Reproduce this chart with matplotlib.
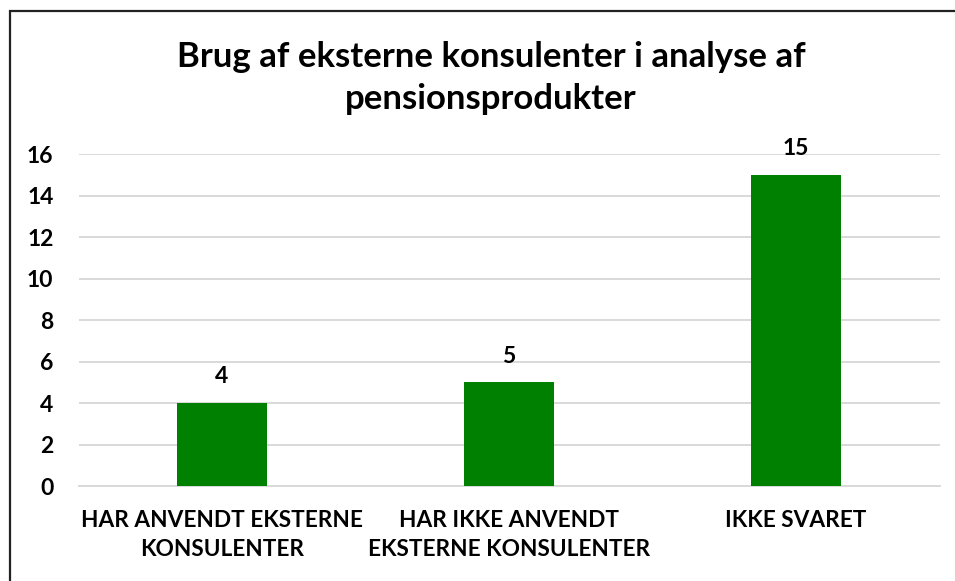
import matplotlib.pyplot as plt
from matplotlib.patches import Rectangle

categories = ["HAR ANVENDT EKSTERNE\nKONSULENTER",
              "HAR IKKE ANVENDT\nEKSTERNE KONSULENTER",
              "IKKE SVARET"]
values = [4, 5, 15]
yticks = [0, 2, 4, 6, 8, 10, 12, 14, 16]

plt.rcParams['font.family'] = ['Lato', 'DejaVu Sans']

fig = plt.figure(figsize=(9.55, 5.81), dpi=100)
ax = fig.add_axes([0.0822, 0.1635, 0.9016, 0.5714])

# outer chart border (cut off at right and bottom in the source)
fig.patches.append(Rectangle((9.5 / 955, -0.1), 1.2, 1 - 10.5 / 581 + 0.1,
                             transform=fig.transFigure, fill=False,
                             edgecolor='#222222', linewidth=1.6))

x = range(len(values))
bars = ax.bar(x, values, width=0.314, color='#008000', zorder=3)
for b, v in zip(bars, values):
    ax.text(b.get_x() + b.get_width() / 2, v + 0.75, str(v), ha='center',
            va='bottom', fontsize=16.5, fontweight='bold', clip_on=False)

ax.set_xlim(-0.5, 2.5)
ax.set_ylim(0, 16)
ax.set_yticks(yticks)
ax.set_xticks(list(x))
ax.set_xticklabels(categories, fontsize=16.3, fontweight='bold',
                   linespacing=1.5)
for lbl in ax.get_yticklabels():
    lbl.set_fontsize(16.5)
    lbl.set_fontweight('bold')
ax.tick_params(length=0, pad=17, axis='x')
ax.tick_params(length=0, pad=18, axis='y')
ax.grid(axis='y', color='#d9d9d9', linewidth=1.4, zorder=0)
for s in ['top', 'right', 'left']:
    ax.spines[s].set_visible(False)
ax.spines['bottom'].set_color('#d9d9d9')
ax.spines['bottom'].set_linewidth(1.4)

fig.text(0.514, 0.866, "Brug af eksterne konsulenter i analyse af\npensionsprodukter",
         ha='center', va='center', fontsize=25, fontweight='bold',
         linespacing=1.38)

fig.savefig('out.png', dpi=100)
